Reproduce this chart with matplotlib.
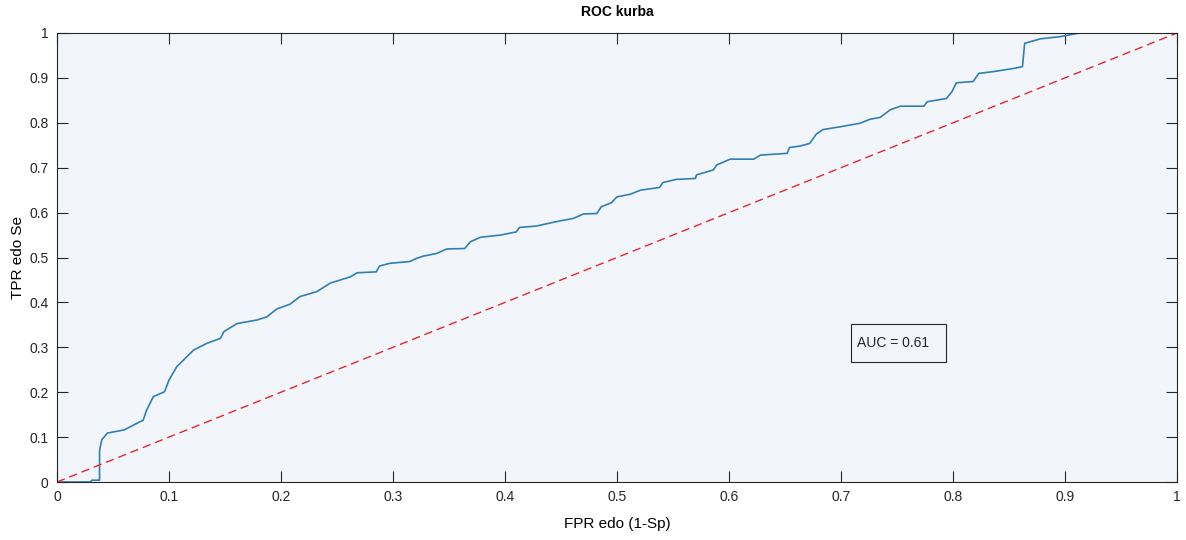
import matplotlib
matplotlib.use("Agg")
import matplotlib.pyplot as plt
from matplotlib.patches import Rectangle

# ROC points (FPR, TPR)
fpr = [0.0, 0.030, 0.031, 0.037, 0.038, 0.038, 0.040, 0.045, 0.060, 0.077,
       0.080, 0.086, 0.096, 0.100, 0.107, 0.122, 0.134, 0.146, 0.149, 0.161,
       0.179, 0.1875, 0.196, 0.208, 0.217, 0.232, 0.244, 0.262, 0.268, 0.285,
       0.288, 0.297, 0.315, 0.321, 0.327, 0.339, 0.348, 0.364, 0.369, 0.378,
       0.396, 0.410, 0.413, 0.428, 0.446, 0.461, 0.470, 0.482, 0.486, 0.495,
       0.500, 0.512, 0.521, 0.538, 0.541, 0.553, 0.570, 0.571, 0.586, 0.589,
       0.601, 0.622, 0.628, 0.652, 0.654, 0.663, 0.672, 0.678, 0.684, 0.699,
       0.717, 0.726, 0.735, 0.744, 0.753, 0.774, 0.777, 0.794, 0.799, 0.803,
       0.818, 0.823, 0.836, 0.854, 0.862, 0.864, 0.878, 0.896, 0.913, 1.0]
tpr = [0.0, 0.0, 0.004, 0.004, 0.004, 0.071, 0.094, 0.109, 0.116, 0.138,
       0.160, 0.190, 0.201, 0.227, 0.257, 0.294, 0.309, 0.320, 0.335, 0.353,
       0.361, 0.368, 0.385, 0.396, 0.413, 0.424, 0.443, 0.457, 0.466, 0.468,
       0.481, 0.487, 0.491, 0.498, 0.503, 0.509, 0.519, 0.520, 0.535, 0.545,
       0.550, 0.557, 0.567, 0.570, 0.580, 0.587, 0.597, 0.598, 0.613, 0.622,
       0.635, 0.641, 0.650, 0.656, 0.667, 0.674, 0.676, 0.684, 0.695, 0.706,
       0.719, 0.719, 0.728, 0.732, 0.745, 0.748, 0.754, 0.775, 0.785, 0.791,
       0.799, 0.808, 0.812, 0.829, 0.837, 0.837, 0.847, 0.854, 0.869, 0.889,
       0.892, 0.910, 0.914, 0.921, 0.925, 0.977, 0.987, 0.992, 1.0, 1.0]
ticks = [0, 0.1, 0.2, 0.3, 0.4, 0.5, 0.6, 0.7, 0.8, 0.9, 1]
tick_labels = ['0', '0.1', '0.2', '0.3', '0.4', '0.5', '0.6', '0.7', '0.8', '0.9', '1']
auc = 0.61

plt.rcParams['font.family'] = ['Liberation Sans', 'DejaVu Sans']

fig = plt.figure(figsize=(11.86, 5.40), dpi=100)
ax = fig.add_axes([57 / 1186, 1 - 482 / 540, 1120 / 1186, 449 / 540])
ax.set_facecolor('#f2f6fb')

ax.plot(fpr, tpr, color='#2f7fb5', linewidth=1.2)
ax.plot([0, 1], [0, 1], color='#e8262b', linewidth=1.0, dashes=(6, 3.5))

ax.set_xlim(0, 1)
ax.set_ylim(0, 1)
ax.set_xticks(ticks)
ax.set_xticklabels(tick_labels)
ax.set_yticks(ticks)
ax.set_yticklabels(tick_labels)
ax.tick_params(direction='in', length=8, width=0.8, colors='#262626',
               labelsize=10, top=True, right=True, pad=6)
for s in ax.spines.values():
    s.set_color('#262626')
    s.set_linewidth(0.8)

ax.set_title('ROC kurba', fontsize=10, fontweight='bold', pad=12)
ax.set_xlabel('FPR edo (1-Sp)', fontsize=11, labelpad=9)
ax.set_ylabel('TPR edo Se', fontsize=11, labelpad=3)

# AUC box (figure coordinates)
fig.patches.append(Rectangle((851 / 1186, 1 - 362 / 540), 95 / 1186, 38 / 540,
                             transform=fig.transFigure, facecolor='none',
                             edgecolor='#262626', linewidth=0.8))
fig.text(857 / 1186, 1 - 343 / 540, 'AUC = %.2f' % auc, fontsize=10,
         va='center', ha='left', color='#262626')

fig.savefig('out.png', dpi=100)
